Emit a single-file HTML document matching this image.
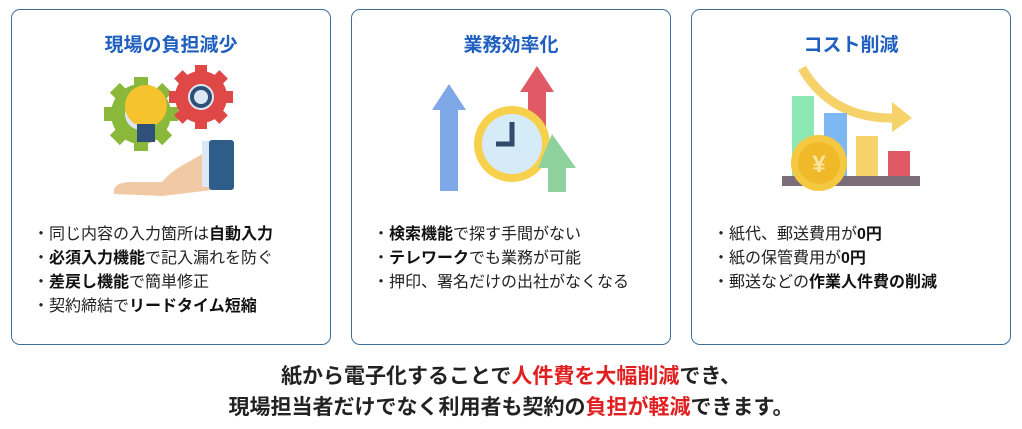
<!DOCTYPE html>
<html><head><meta charset="utf-8"><style>
*{margin:0;padding:0;box-sizing:border-box}
body{width:1022px;height:429px;background:#fff;position:relative;overflow:hidden;font-family:"Liberation Sans","Noto Sans CJK JP",sans-serif;color:#222}
.box{position:absolute;top:9px;width:320px;height:336px;border:1.5px solid #3d6e9c;border-radius:9px}
.t{position:absolute;top:20px;left:0;width:100%;text-align:center;font-size:19px;font-weight:bold;color:#1f5fbf}
ul{position:absolute;top:213px;left:37px;list-style:none;font-size:16px;line-height:24px}
li::before{content:"・";margin-left:-16px}
b{font-weight:bold;color:#111}
svg{position:absolute;left:0;top:0}
.bot{position:absolute;left:0;width:1022px;text-align:center;font-size:21px;font-weight:bold;color:#222}
.r{color:#e02020}
</style></head><body>
<div class="box" style="left:11px">
<div class="t">現場の負担減少</div>
<svg width="320" height="336">
<g transform="translate(129,104)"><circle r="30" fill="#8ab83a"/><g fill="#8ab83a"><rect x="-7" y="-37" width="14" height="74"/><rect x="-37" y="-7" width="74" height="14"/><rect x="-7" y="-37" width="14" height="74" transform="rotate(45)"/><rect x="-7" y="-37" width="14" height="74" transform="rotate(-45)"/></g><circle r="16" fill="#dce9f5"/></g>
<g transform="translate(189,87)"><circle r="26" fill="#e04848"/><g fill="#e04848"><rect x="-6" y="-32" width="12" height="64"/><rect x="-32" y="-6" width="64" height="12"/><rect x="-6" y="-32" width="12" height="64" transform="rotate(45)"/><rect x="-6" y="-32" width="12" height="64" transform="rotate(-45)"/></g><circle r="13" fill="#dce9f5"/><circle r="9" fill="none" stroke="#2f5078" stroke-width="4"/></g>
<circle cx="134" cy="96" r="21" fill="#f6c32e"/>
<rect x="125" y="114" width="18" height="18" fill="#2f5078"/>
<path d="M102 184 Q100 172 120 172 L150 172 Q160 160 180 150 L200 138 L200 180 L150 186 Z" fill="#f2c9a5"/>
<rect x="190" y="131" width="8" height="46" fill="#dce9f5"/>
<rect x="197" y="130" width="25" height="50" rx="3" fill="#2f5d8a"/>
</svg>
<ul><li>同じ内容の入力箇所は<b>自動入力</b></li><li><b>必須入力機能</b>で記入漏れを防ぐ</li><li><b>差戻し機能</b>で簡単修正</li><li>契約締結で<b>リードタイム短縮</b></li></ul>
</div>
<div class="box" style="left:351px">
<div class="t">業務効率化</div>
<svg width="320" height="336">
<path d="M97 74 L114 100 L106 100 L106 181 L106 181 L88 181 L88 100 L80 100 Z" fill="#7fa8e8"/>
<path d="M185 56 L202 82 L194 82 L194 125 L176 125 L176 82 L168 82 Z" fill="#e05a66"/>
<circle cx="160" cy="134" r="38" fill="#f7d14e"/>
<circle cx="160" cy="134" r="30" fill="#d6ebf8"/>
<path d="M160 112 L160 134 L144 134" stroke="#2f4a6a" stroke-width="5" fill="none"/>
<path d="M200 124 L224 158 L214 158 L214 182 L196 182 L196 158 L186 158 Z" fill="#8ed19c"/>
</svg>
<ul><li><b>検索機能</b>で探す手間がない</li><li><b>テレワーク</b>でも業務が可能</li><li>押印、署名だけの出社がなくなる</li></ul>
</div>
<div class="box" style="left:691px">
<div class="t">コスト削減</div>
<svg width="320" height="336">
<path d="M110 58 Q140 110 205 108" stroke="#f5d36a" stroke-width="9" fill="none"/>
<path d="M200 92 L220 108 L200 122 Z" fill="#f5d36a"/>
<rect x="100" y="86" width="22" height="80" fill="#8de8b4"/>
<rect x="132" y="103" width="23" height="63" fill="#7db8f2"/>
<rect x="164" y="126" width="22" height="40" fill="#f5d36a"/>
<rect x="196" y="141" width="22" height="25" fill="#e05a66"/>
<rect x="90" y="166" width="138" height="10" fill="#7a6d78"/>
<circle cx="127" cy="153" r="28" fill="#f5c842"/>
<circle cx="127" cy="153" r="21" fill="#f0b92a"/>
<text x="127" y="162" text-anchor="middle" font-size="24" font-weight="bold" fill="#f8e6a0" font-family="Liberation Sans,sans-serif">¥</text>
</svg>
<ul><li>紙代、郵送費用が<b>0円</b></li><li>紙の保管費用が<b>0円</b></li><li>郵送などの<b>作業人件費の削減</b></li></ul>
</div>
<div class="bot" style="top:360px">紙から電子化することで<span class="r">人件費を大幅削減</span>でき、</div>
<div class="bot" style="top:391px">現場担当者だけでなく利用者も契約の<span class="r">負担が軽減</span>できます。</div>
</body></html>
